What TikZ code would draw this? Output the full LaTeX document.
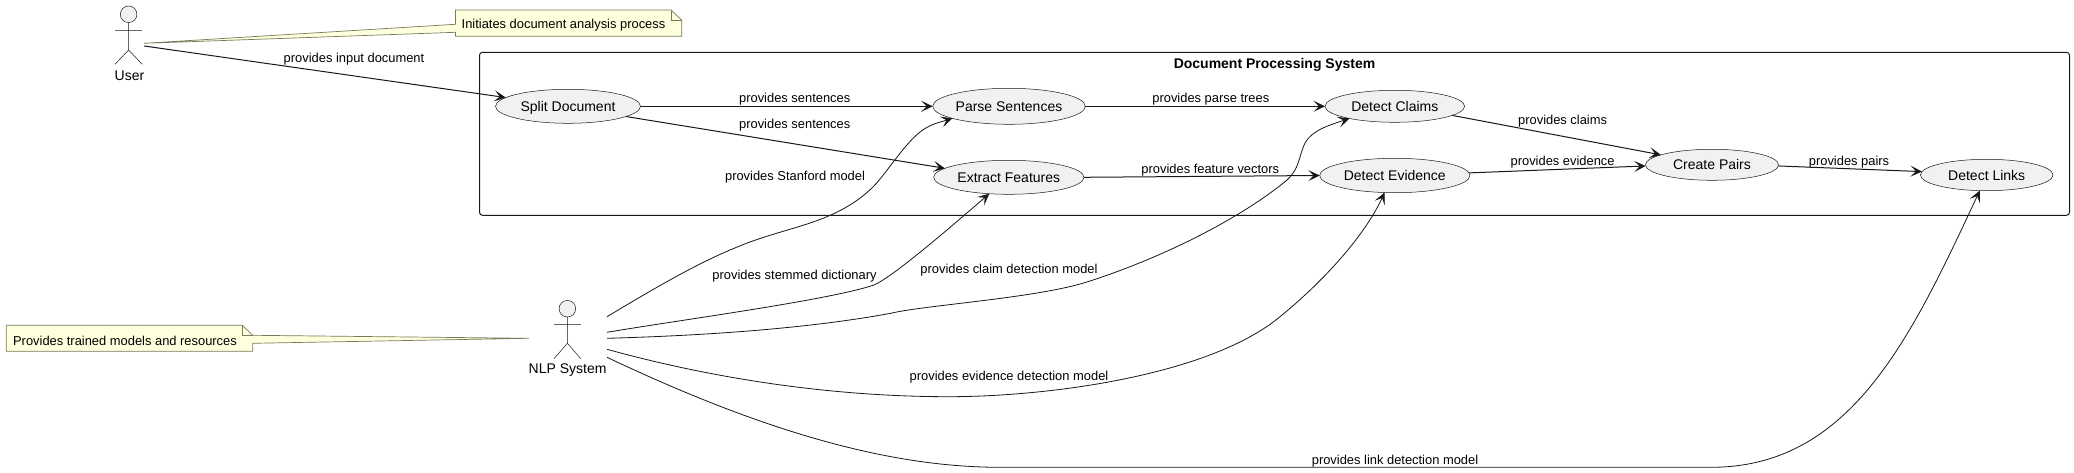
\documentclass[tikz,border=0pt]{standalone}
\usepackage{fontspec}
\setmainfont{Liberation Sans}
\usetikzlibrary{shapes.geometric,arrows.meta}
\definecolor{ink}{HTML}{181818}
\definecolor{uc}{HTML}{F1F1F1}
\definecolor{notefill}{HTML}{FEFFDD}
\definecolor{noteline}{HTML}{7A7A5A}
\tikzset{
  x=1pt,y=-1pt,
  every node/.style={font=\fontsize{12.9}{15}\selectfont,text=black,inner sep=0pt,outer sep=0pt},
  usecase/.style={ellipse,draw=ink,line width=0.5pt,fill=uc,font=\fontsize{14}{16}\selectfont,text height=10.4pt,text depth=0pt},
  link/.style={draw=ink,line width=1pt,-{Stealth[length=11.5pt,width=11pt,inset=5.5pt]}},
  curvelink/.style={link,line width=0.8pt},
  actorbody/.style={draw=ink,line width=0.5pt},
  actorhead/.style={draw=ink,line width=0.5pt,fill=uc},
  note/.style={draw=noteline,line width=0.7pt,fill=notefill},
  foldline/.style={draw=noteline,line width=0.7pt},
  anchorbox/.style={rectangle,minimum height=1pt},
  actorlabel/.style={font=\fontsize{14}{16}\selectfont,yshift=-0.7pt},
  lab/.style={anchor=center,yshift=-0.7pt},
}
\begin{document}
\begin{tikzpicture}
\useasboundingbox (0,0) rectangle (2074,473);
\fill[white] (0,0) rectangle (2074,473);

% package
\draw[ink,line width=1pt,rounded corners=3pt] (479.5,52.3) rectangle (2069.5,215.3);
\node[font=\fontsize{14}{16}\selectfont\bfseries] (pkgtitle) at (1274.5,65.2) {Document Processing System};

% use cases
\node[usecase,minimum width=145pt,minimum height=34pt] (split) at (568,106.3) {Split Document};
\node[usecase,minimum width=152.6pt,minimum height=36pt] (parse) at (1009,106.3) {Parse Sentences};
\node[usecase,minimum width=150.4pt,minimum height=34pt] (extract) at (1008.8,177.3) {Extract Features};
\node[usecase,minimum width=139.6pt,minimum height=32pt] (claims) at (1394.8,106.3) {Detect Claims};
\node[usecase,minimum width=150.3pt,minimum height=34.4pt] (evidence) at (1394.8,175.5) {Detect Evidence};
\node[usecase,minimum width=133pt,minimum height=31pt] (pairs) at (1712,164.8) {Create Pairs};
\node[usecase,minimum width=132.6pt,minimum height=31.4pt] (links) at (1986.7,175) {Detect Links};

% actors
\node[anchorbox,minimum width=31.2pt] (user) at (128.6,43.3) {};
\node[anchorbox,minimum width=78pt] (nlp) at (568,338.3) {};
\draw[actorhead] (128.6,14.3) circle[radius=8.3];
\draw[actorbody] (128.6,22.6) -- (128.6,50) (115,30.3) -- (142.2,30.3) (115,64.3) -- (128.6,50) -- (142.2,64.3);
\node[actorlabel] (userlabel) at (129.5,75.3) {User};
\draw[actorhead] (567.4,308.7) circle[radius=8.3];
\draw[actorbody] (567.4,317) -- (567.4,343.3) (554,324.3) -- (580.8,324.3) (554,358.7) -- (567.4,343.3) -- (580.8,358.7);
\node[actorlabel] (nlplabel) at (567.6,369.3) {NLP System};

% notes
\draw[note] (455.4,10) -- (671,10) -- (681.7,20) -- (681.7,36.3) -- (455.4,36.3) -- (455.4,32.3) -- (user.east) -- (455.4,24.3) -- cycle;
\draw[foldline] (671,10) -- (671,20) -- (681.7,20);
\node[lab] (noteA) at (563.5,24.7) {Initiates document analysis process};

\draw[note] (6.25,325.3) -- (242.4,325.3) -- (252.7,335.3) -- (nlp.west) -- (252.7,343.3) -- (252.7,351.3) -- (6.25,351.3) -- cycle;
\draw[foldline] (242.4,325.3) -- (242.4,335.3) -- (252.7,335.3);
\node[lab] (noteB) at (125,339.7) {Provides trained models and resources};

% straight connectors
\draw[link] ([yshift=-2.7pt]user.east) -- (split.172);
\draw[link] (split.east) -- (parse.west);
\draw[link] (split.-10.9) -- (extract.172);
\draw[link] (parse.east) -- (claims.west);
\draw[link] (extract.east) -- (evidence.west);
\draw[link] (claims.-9.8) -- (pairs.169);
\draw[link] (evidence.2.4) -- (pairs.181.6);
\draw[link] (pairs.-1.6) -- (links.177.7);

% curved connectors
\draw[curvelink] ([yshift=21.6pt]nlp.east) .. controls (650,291) and (695,264) .. (738,246.7)
  .. controls (768,234) and (800,228) .. (827,216.7)
  .. controls (845,209) and (862,199) .. (876.4,183.3)
  .. controls (888,170) and (904,146) .. (916.6,135)
  .. controls (928,124) and (941,122) .. (parse.192.4);
\draw[curvelink] ([yshift=6pt]nlp.east) .. controls (680,320) and (830,300) .. (874,285)
  .. controls (890,278) and (930,245) .. (extract.220);
\draw[curvelink] (nlp.east) .. controls (690,336) and (800,330) .. (890.7,313.3)
  .. controls (925,305) and (1040,298) .. (1090,281)
  .. controls (1170,255) and (1245,215) .. (1287,180)
  .. controls (1300,168) and (1298,158) .. (1305,143)
  .. controls (1312,130) and (1330,125) .. (claims.195.4);
\draw[curvelink] ([yshift=-11pt]nlp.east) .. controls (700,375) and (820,396.7) .. (948.8,396.7)
  .. controls (1050,396.7) and (1210,375) .. (1280,316.7)
  .. controls (1325,280) and (1365,235) .. (evidence.239.3);
\draw[curvelink] ([yshift=-19pt]nlp.east) .. controls (750,425) and (880,467.3) .. (1000,467.3)
  -- (1711,467.3)
  .. controls (1850,467.3) and (1910,340) .. (links.246.9);

% labels
\node[lab] (l1) at (354,58.7) {provides input document};
\node[lab] (l2) at (794.7,98.7) {provides sentences};
\node[lab] (l3) at (794.7,124.7) {provides sentences};
\node[lab] (l4) at (1210.8,98.7) {provides parse trees};
\node[lab] (l5) at (1210.3,169) {provides feature vectors};
\node[lab] (l6) at (1562.6,120) {provides claims};
\node[lab] (l7) at (1562.6,161) {provides evidence};
\node[lab] (l8) at (1849,161) {provides pairs};
\node[lab] (l9) at (795,176.7) {provides Stanford model};
\node[lab] (l10) at (794.5,275.3) {provides stemmed dictionary};
\node[lab] (l11) at (1009,269) {provides claim detection model};
\node[lab] (l12) at (1009,376) {provides evidence detection model};
\node[lab] (l13) at (1395,460) {provides link detection model};
\end{tikzpicture}
\end{document}
